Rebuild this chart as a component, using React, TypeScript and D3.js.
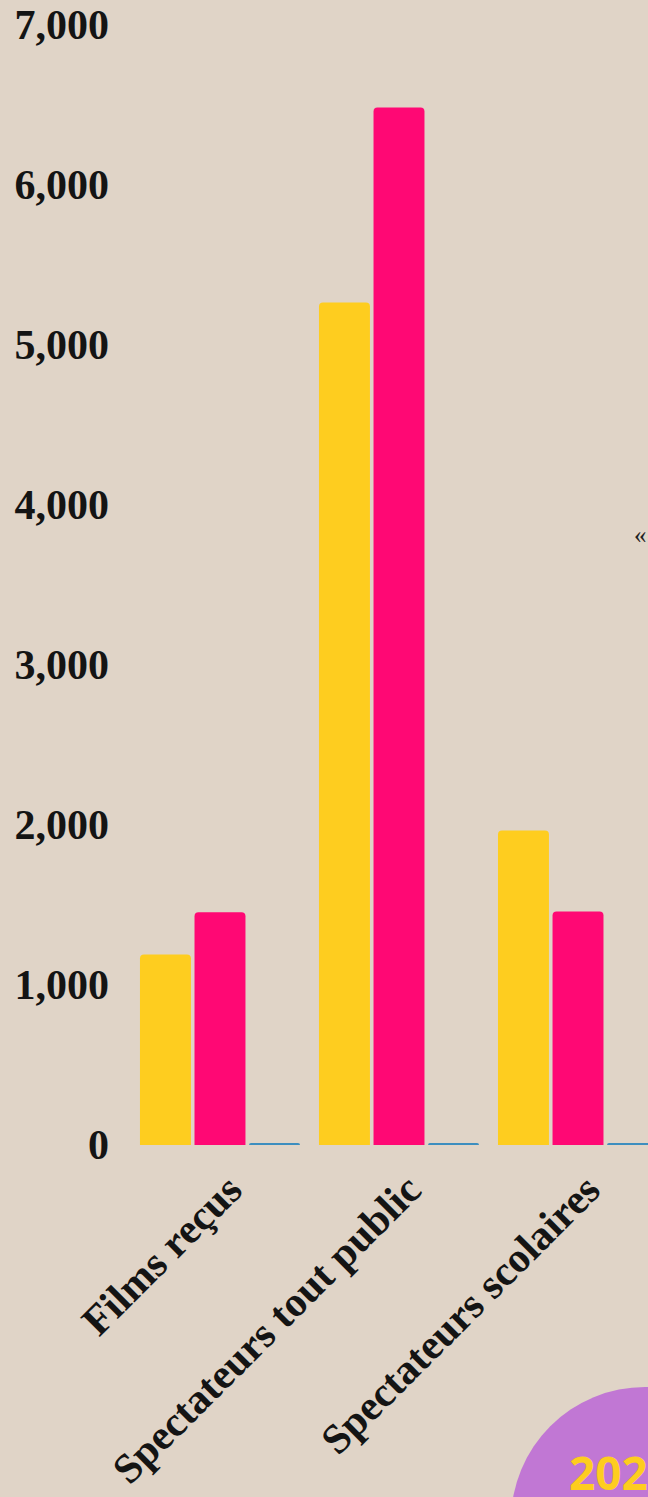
import React, { useRef, useEffect } from "react";
import * as d3 from "d3";

const categories = ["Films reçus", "Spectateurs tout public", "Spectateurs scolaires"];
const seriesKeys = ["a", "b", "c"];
const seriesA = [1190, 5265, 1965];
const seriesB = [1455, 6485, 1460];
const seriesC = [12, 12, 12];
const yTicks = [0, 1000, 2000, 3000, 4000, 5000, 6000, 7000];

const W = 648;
const H = 1497;
const BG = "#e0d4c7";
const COLORS = ["#fecd1f", "#ff0874", "#3d8ebf"];

function topRounded(x: number, y: number, w: number, h: number, r: number) {
  const rr = Math.min(r, h, w / 2);
  return `M${x},${y + h}V${y + rr}Q${x},${y} ${x + rr},${y}H${x + w - rr}Q${x + w},${y} ${x + w},${y + rr}V${y + h}Z`;
}

export default function App() {
  const ref = useRef<SVGSVGElement>(null);

  useEffect(() => {
    if (!ref.current) return;
    const svg = d3.select(ref.current);
    svg.selectAll("*").remove();

    svg.append("rect").attr("width", W).attr("height", H).attr("fill", BG);

    const y = d3.scaleLinear().domain([0, 7000]).range([1145, 25]);
    const x0 = d3.scaleBand().domain(categories).range([121, 677]).paddingInner(0.106).paddingOuter(0.106);
    const x1 = d3.scaleBand().domain(seriesKeys).range([0, x0.bandwidth()]).paddingInner(0.066);

    const values = [seriesA, seriesB, seriesC];

    // y axis labels
    svg.append("g").selectAll("text").data(yTicks).enter().append("text")
      .attr("x", 109).attr("y", d => y(d) + 14)
      .attr("text-anchor", "end")
      .style("font-family", "'Liberation Serif', serif").style("font-weight", 700)
      .style("font-size", "42px").style("fill", "#141414")
      .text(d => d3.format(",")(d));

    // bars
    const g = svg.append("g");
    categories.forEach((cat, ci) => {
      seriesKeys.forEach((k, si) => {
        const v = values[si][ci];
        const bx = x0(cat)! + x1(k)!;
        const by = y(v);
        g.append("path")
          .attr("d", topRounded(bx, by, x1.bandwidth(), y(0) - by, 4))
          .attr("fill", COLORS[si]);
      });
    });

    // x axis labels
    svg.append("g").selectAll("text").data(categories).enter().append("text")
      .attr("transform", d => `translate(${x0(d)! + x0.bandwidth() / 2 + 14},${1182}) rotate(-45)`)
      .attr("text-anchor", "end")
      .attr("dy", "0.35em")
      .style("font-family", "'Liberation Serif', serif").style("font-weight", 700)
      .style("font-size", "42px").style("fill", "#141414")
      .text(d => d);

    // fragment of quote text off to the right
    svg.append("text").attr("x", 634).attr("y", 543)
      .style("font-family", "'Liberation Serif', serif").style("font-size", "25px").style("fill", "#222")
      .text("«");

    // year badge
    svg.append("circle").attr("cx", 645).attr("cy", 1521).attr("r", 134).attr("fill", "#c177d4");
    svg.append("text").attr("x", 569).attr("y", 1490)
      .style("font-family", "'Open Sans', sans-serif").style("font-weight", 700)
      .style("font-size", "46px").style("fill", "#fecd1f")
      .text("2024");
  }, []);

  return (
    <div style={{ position: "absolute", left: 0, top: 0, width: W, height: H, overflow: "hidden" }}>
      <svg ref={ref} width={W} height={H} style={{ display: "block" }}></svg>
    </div>
  );
}
